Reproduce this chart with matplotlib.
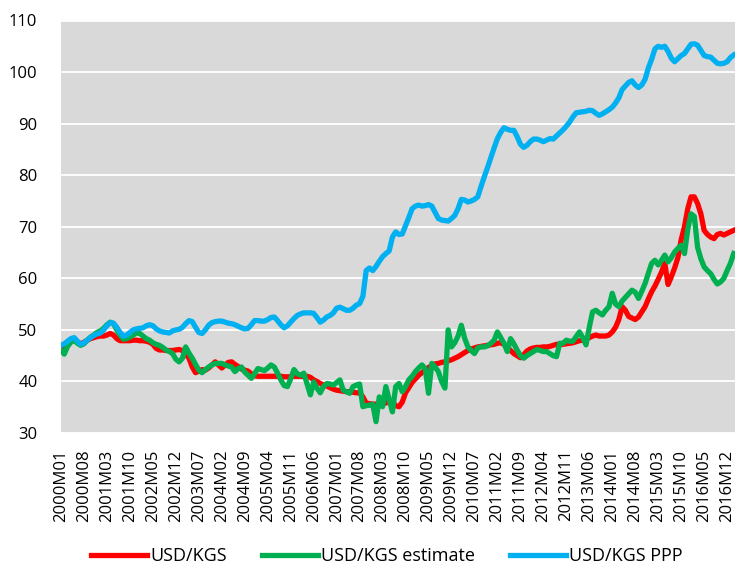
import numpy as np
import matplotlib
matplotlib.use('Agg')
import matplotlib.pyplot as plt

# -------------------- Data (monthly, 2000M01 .. 2017M02) --------------------
usd_kgs = [
    47.0, 46.8, 47.3, 47.8, 48.0, 47.6, 47.3, 47.6, 48.0, 48.3, 48.5, 48.7,   # 2000
    48.8, 48.8, 49.0, 49.3, 49.0, 48.3, 47.9, 47.9, 47.9, 47.9, 48.0, 48.0,   # 2001
    47.9, 47.9, 47.8, 47.6, 47.2, 46.4, 46.1, 46.1, 46.0, 46.0, 46.0, 46.1,   # 2002
    46.2, 46.0, 45.3, 44.5, 42.8, 41.7, 42.0, 42.3, 42.2, 42.6, 43.2, 43.8,   # 2003
    43.2, 42.6, 43.2, 43.7, 43.8, 43.3, 42.9, 42.4, 42.2, 42.0, 41.5, 41.1,   # 2004
    41.0, 41.0, 41.0, 41.0, 41.0, 41.0, 41.0, 41.0, 40.9, 40.9, 40.9, 41.0,   # 2005
    41.0, 41.0, 41.0, 41.0, 40.8, 40.3, 40.0, 39.6, 39.3, 39.1, 38.8, 38.5,   # 2006
    38.3, 38.2, 38.1, 38.0, 38.0, 37.9, 37.8, 37.8, 37.0, 35.8, 35.7, 35.6,   # 2007
    35.6, 35.7, 35.8, 35.8, 36.3, 36.0, 35.3, 35.1, 36.0, 37.8, 38.8, 39.8,   # 2008
    40.5, 41.2, 41.7, 42.2, 42.7, 43.1, 43.4, 43.5, 43.7, 43.8, 44.0, 44.2,   # 2009
    44.5, 44.8, 45.2, 45.6, 46.0, 46.3, 46.5, 46.7, 46.8, 46.9, 47.0, 47.1,   # 2010
    47.2, 47.4, 47.5, 47.2, 46.7, 46.0, 45.4, 45.0, 44.6, 45.2, 45.9, 46.3,   # 2011
    46.5, 46.6, 46.6, 46.7, 46.7, 46.8, 47.0, 47.2, 47.2, 47.2, 47.3, 47.4,   # 2012
    47.5, 47.7, 47.9, 48.0, 48.2, 48.5, 48.8, 49.0, 48.8, 48.8, 48.8, 49.0,   # 2013
    49.6, 50.5, 52.0, 54.5, 53.8, 52.6, 52.3, 52.0, 52.5, 53.5, 54.5, 56.0,   # 2014
    57.4, 58.5, 59.8, 61.2, 62.9, 58.8, 60.3, 62.0, 64.0, 67.5, 70.0, 73.5,   # 2015
    75.8, 75.8, 74.5, 72.5, 69.3, 68.5, 68.0, 67.7, 68.5, 68.7, 68.4, 68.7,   # 2016
    69.0, 69.3,                                                               # 2017
]

usd_kgs_estimate = [
    46.2, 45.3, 46.8, 47.6, 48.0, 47.4, 47.0, 47.3, 48.0, 48.6, 49.0, 49.5,
    49.8, 50.3, 51.0, 51.5, 51.2, 50.0, 49.0, 48.2, 48.3, 48.6, 49.0, 49.4,
    49.3, 48.8, 48.3, 48.0, 47.5, 47.2, 47.0, 46.6, 46.1, 45.8, 45.4, 44.3,
    43.8, 44.5, 46.7, 45.5, 44.5, 43.3, 42.2, 41.7, 42.3, 42.8, 43.2, 43.5,
    43.5, 43.5, 43.2, 43.0, 42.8, 41.9, 42.5, 42.8, 41.8, 41.2, 40.6, 41.5,
    42.5, 42.3, 42.1, 42.6, 43.2, 42.8, 41.6, 40.3, 39.2, 39.0, 40.5, 42.3,
    41.5, 41.2, 41.6, 39.5, 37.4, 39.9, 38.7, 37.8, 39.0, 39.6, 39.5, 39.3,
    39.8, 40.3, 38.3, 38.0, 37.7, 39.0, 39.3, 39.5, 35.1, 35.3, 35.4, 35.6,
    32.2, 37.0, 35.1, 39.0, 36.5, 34.1, 39.0, 39.6, 38.0, 39.0, 40.3, 41.0,
    41.9, 42.6, 43.2, 42.5, 37.7, 43.5, 42.8, 41.9, 40.0, 38.7, 50.0, 46.7,
    47.5, 48.8, 50.9, 48.4, 46.7, 46.0, 45.4, 46.5, 46.7, 46.7, 46.9, 47.4,
    48.0, 49.6, 48.5, 47.4, 45.8, 48.3, 47.3, 46.1, 45.0, 44.5, 45.0, 45.4,
    45.8, 46.2, 46.0, 45.8, 45.8, 45.4, 45.0, 44.8, 47.4, 47.4, 48.0, 47.8,
    47.8, 48.7, 49.6, 48.5, 47.1, 50.5, 53.5, 53.8, 53.3, 52.9, 53.8, 54.5,
    57.1, 55.0, 54.5, 55.6, 56.3, 57.0, 57.7, 57.3, 56.1, 57.5, 59.0, 61.0,
    62.9, 63.5, 62.6, 63.5, 64.5, 63.2, 64.0, 65.1, 65.8, 66.4, 64.8, 69.5,
    72.5, 72.0, 66.0, 63.8, 62.2, 61.5, 60.9, 59.8, 58.9, 59.3, 60.0, 61.5,
    62.9, 64.8,
]

usd_kgs_ppp = [
    47.0, 47.3, 47.8, 48.3, 48.5, 47.8, 47.2, 47.5, 48.0, 48.5, 48.9, 49.2,
    49.4, 50.0, 50.8, 51.4, 51.3, 50.5, 49.5, 48.8, 49.0, 49.5, 50.0, 50.2,
    50.3, 50.4, 50.8, 51.0, 50.8, 50.2, 49.8, 49.6, 49.5, 49.4, 49.8, 50.0,
    50.1, 50.5, 51.2, 51.8, 51.6, 50.5, 49.5, 49.3, 50.0, 50.9, 51.4, 51.6,
    51.7, 51.7, 51.5, 51.3, 51.2, 51.0, 50.7, 50.4, 50.2, 50.3, 51.0, 51.8,
    51.8, 51.7, 51.7, 52.0, 52.4, 52.5, 51.8, 51.0, 50.4, 50.8, 51.5, 52.2,
    52.8, 53.1, 53.3, 53.3, 53.3, 53.2, 52.4, 51.5, 51.9, 52.5, 52.8, 53.3,
    54.2, 54.4, 54.1, 53.8, 53.8, 54.2, 54.8, 55.1, 56.5, 61.5, 62.0, 61.5,
    62.3, 63.3, 64.2, 64.8, 65.3, 68.0, 69.0, 68.5, 68.6, 70.2, 71.8, 73.5,
    74.0, 74.2, 74.0, 74.1, 74.3, 74.0, 72.8, 71.6, 71.3, 71.2, 71.1, 71.6,
    72.2, 73.5, 75.3, 75.2, 74.8, 75.0, 75.3, 75.8, 77.8, 79.7, 81.5, 83.4,
    85.3, 87.1, 88.3, 89.2, 88.9, 88.7, 88.7, 87.5, 86.0, 85.4, 85.8, 86.5,
    87.0, 87.0, 86.8, 86.5, 86.8, 87.1, 87.0, 87.6, 88.2, 88.8, 89.5, 90.3,
    91.3, 92.1, 92.2, 92.3, 92.4, 92.6, 92.5, 92.0, 91.6, 91.9, 92.3, 92.7,
    93.2, 94.0, 95.0, 96.6, 97.3, 98.0, 98.3, 97.5, 97.0, 97.5, 98.6, 100.8,
    102.5, 104.5, 105.0, 104.8, 105.0, 104.0, 102.7, 102.0, 102.6, 103.2, 103.6, 104.5,
    105.4, 105.5, 105.2, 104.2, 103.2, 103.0, 102.9, 102.3, 101.7, 101.6, 101.7, 102.0,
    102.8, 103.3,
]

n = len(usd_kgs)
months = [f"{2000 + i // 12}M{i % 12 + 1:02d}" for i in range(n)]
x = np.arange(n)

# -------------------- Plot --------------------
plt.rcParams['font.family'] = ['Open Sans', 'DejaVu Sans']

fig = plt.figure(figsize=(7.35, 5.68), dpi=100)
ax = fig.add_axes([61 / 735, 135 / 568, 1 - 61 / 735, 412.5 / 568])
ax.set_facecolor('#D9D9D9')

ax.plot(x, usd_kgs, color='#FF0000', lw=3.8, label='USD/KGS', solid_joinstyle='round')
ax.plot(x, usd_kgs_estimate, color='#00B050', lw=3.8, label='USD/KGS estimate', solid_joinstyle='round')
ax.plot(x, usd_kgs_ppp, color='#00B0F0', lw=3.8, label='USD/KGS PPP', solid_joinstyle='round')

ax.set_ylim(30, 110)
ax.set_yticks(range(30, 111, 10))
ax.set_xlim(0, 205.4)
ax.set_xticks(x[::7])
ax.set_xticklabels(months[::7], rotation=90)

ax.grid(axis='y', color='white', lw=1.3)
ax.set_axisbelow(True)
for s in ax.spines.values():
    s.set_visible(False)
ax.tick_params(axis='both', length=0, labelsize=12, colors='black')
ax.tick_params(axis='y', pad=17)
ax.tick_params(axis='x', pad=12)

fig.legend(loc='center', bbox_to_anchor=(387 / 735, 12 / 568), ncol=3, frameon=False,
           fontsize=13, handlelength=3.1, handletextpad=0.2, columnspacing=1.9)

fig.savefig('out.png', dpi=100)
